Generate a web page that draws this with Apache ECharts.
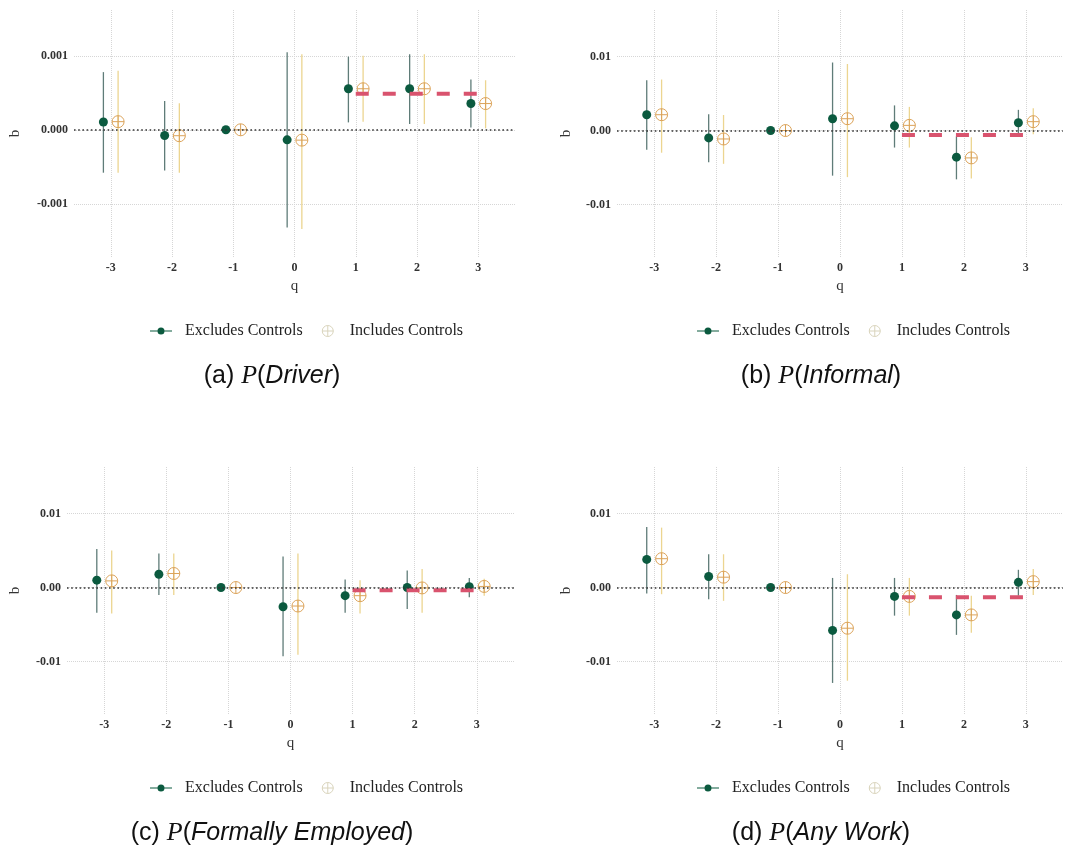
<!DOCTYPE html>
<html>
<head>
<meta charset="utf-8">
<script src="https://cdn.jsdelivr.net/npm/echarts@6/dist/echarts.min.js"></script>
<style>
  body { margin: 0; background: #fff; }
  .panel { position: absolute; }
</style>
</head>
<body>
<div id="chartA" class="panel" style="left:0;top:0;width:539px;height:457px"></div>
<div id="chartB" class="panel" style="left:539px;top:0;width:539px;height:457px"></div>
<div id="chartC" class="panel" style="left:0;top:457px;width:539px;height:400px"></div>
<div id="chartD" class="panel" style="left:539px;top:457px;width:539px;height:400px"></div>
<script>
// event time
var qs = [-3, -2, -1, 0, 1, 2, 3];

// (a) P(Driver)
var drvExcl   = [0.000105, -0.000077, 0, -0.000136, 0.000555, 0.000555, 0.000355];
var drvExclLo = [-0.00058, -0.00055, 0, -0.00132, 0.00010, 0.00008, 0.00003];
var drvExclHi = [0.00078, 0.00039, 0, 0.00105, 0.00099, 0.00102, 0.00068];
var drvIncl   = [0.00011, -0.00008, 0, -0.00014, 0.000555, 0.000555, 0.000355];
var drvInclLo = [-0.00058, -0.00058, 0, -0.00134, 0.00011, 0.00008, 0.00002];
var drvInclHi = [0.00080, 0.00036, 0, 0.00102, 0.00100, 0.00102, 0.00067];

// (b) P(Informal)
var infExcl   = [0.00214, -0.0010, 0, 0.0016, 0.00064, -0.0036, 0.00105];
var infExclLo = [-0.0026, -0.0043, 0, -0.0061, -0.0023, -0.0066, -0.00045];
var infExclHi = [0.0068, 0.0022, 0, 0.0092, 0.0034, -0.0008, 0.0028];
var infIncl   = [0.00214, -0.00114, 0, 0.0016, 0.0007, -0.0037, 0.0012];
var infInclLo = [-0.0030, -0.0045, 0, -0.0063, -0.0023, -0.0065, -0.0005];
var infInclHi = [0.0069, 0.0021, 0, 0.0090, 0.0032, -0.0009, 0.0030];

// (c) P(Formally Employed)
var frmExcl   = [0.0010, 0.0018, 0, -0.0026, -0.0011, 0, 0.0001];
var frmExclLo = [-0.0034, -0.0010, 0, -0.0093, -0.0034, -0.0029, -0.0013];
var frmExclHi = [0.0052, 0.0046, 0, 0.0042, 0.0011, 0.0023, 0.0013];
var frmIncl   = [0.0009, 0.0019, 0, -0.0025, -0.0011, -0.00005, 0.00015];
var frmInclLo = [-0.0035, -0.0010, 0, -0.0091, -0.0035, -0.0034, -0.0011];
var frmInclHi = [0.0050, 0.0046, 0, 0.0046, 0.0010, 0.0025, 0.0012];

// (d) P(Any Work)
var anyExcl   = [0.0038, 0.0015, 0, -0.0058, -0.0012, -0.0037, 0.0007];
var anyExclLo = [-0.0008, -0.0016, 0, -0.0129, -0.0038, -0.0064, -0.0011];
var anyExclHi = [0.0082, 0.0045, 0, 0.0013, 0.0013, -0.0010, 0.0024];
var anyIncl   = [0.0039, 0.0014, 0, -0.0055, -0.0012, -0.0037, 0.0008];
var anyInclLo = [-0.0009, -0.0018, 0, -0.0126, -0.0038, -0.0061, -0.0010];
var anyInclHi = [0.0081, 0.0045, 0, 0.0018, 0.0013, -0.0011, 0.0025];

// pooled post-period estimate (red dashed, q = 1..3)
var pooledQ = [1, 3];
var pooled = [0.000486, -0.0006, -0.00036, -0.0013];

var yTicksSmall = [-0.001, 0, 0.001];
var yTicksBig = [-0.01, 0, 0.01];

var GREEN = '#0b5a3f';
var GREEN_CI = '#5f7c78';
var TAN = '#dba35a';
var TAN_CI = '#ecd590';
var RED = '#d9536e';
var SERIF = 'Liberation Serif';
var SANS = 'Liberation Sans';

var dodge = 0.12;
var plusPath = 'path://M10,0A10,10 0 1,1 10,20A10,10 0 1,1 10,0ZM0,10L20,10M10,0L10,20';
var dotLinePath = 'path://M0,3h22v1h-22zM11,0a3.5,3.5 0 1,1 0,7a3.5,3.5 0 1,1 0,-7z';

function ciSeries(name, lo, hi, off, color) {
	return {
		type: 'custom',
		name: name,
		silent: true,
		data: qs.map(function (q, i) { return [q + off, lo[i], hi[i]]; }),
		encode: { x: 0, y: [1, 2] },
		renderItem: function (params, api) {
			var a = api.coord([api.value(0), api.value(1)]);
			var b = api.coord([api.value(0), api.value(2)]);
			return {
				type: 'line',
				shape: { x1: a[0], y1: a[1], x2: b[0], y2: b[1] },
				style: { stroke: color, lineWidth: 1.3 }
			};
		}
	};
}

function buildOption(p) {
	return {
		animation: false,
		title: {
			text: '{n|(' + p.tag + ') }{m|P}{n|(}{i|' + p.caption + '}{n|)}',
			left: p.capCenter,
			textAlign: 'center',
			top: 358,
			textStyle: {
				rich: {
					n: { fontFamily: SANS, fontSize: 25, fontWeight: 'normal', color: '#111' },
					m: { fontFamily: SERIF, fontStyle: 'italic', fontWeight: 'normal', fontSize: 26, color: '#111' },
					i: { fontFamily: SANS, fontStyle: 'italic', fontWeight: 'normal', fontSize: 25, color: '#111' }
				}
			}
		},
		legend: {
			left: p.legLeft,
			top: 323,
			padding: 0,
			itemWidth: 22,
			itemHeight: 11,
			itemGap: 19,
			selectedMode: false,
			textStyle: { fontFamily: SERIF, fontSize: 16, color: '#222', padding: [0, 0, 0, 8] },
			data: [
				{ name: 'Excludes Controls', icon: dotLinePath, itemStyle: { color: GREEN } },
				{ name: 'Includes Controls', icon: plusPath,
				  itemStyle: { color: 'transparent', borderColor: '#d9d4bc', borderWidth: 1 },
				  textStyle: { padding: [0, 0, 0, 6] } }
			]
		},
		grid: { left: p.left, right: p.right, top: 10, height: 247 },
		xAxis: {
			type: 'value',
			min: -3.6,
			max: 3.6,
			name: 'q',
			nameLocation: 'middle',
			nameGap: 21,
			nameTextStyle: { fontFamily: SERIF, fontSize: 15, color: '#333' },
			axisLine: { show: false },
			axisTick: { show: false, customValues: qs },
			axisLabel: {
				customValues: qs,
				margin: 5,
				fontFamily: SERIF, fontSize: 12, fontWeight: 'bold', color: '#333'
			},
			splitLine: { show: true, lineStyle: { type: 'dotted', color: '#d6d6d6', width: 1 } }
		},
		yAxis: {
			type: 'value',
			min: p.ymin,
			max: p.ymax,
			name: 'b',
			nameLocation: 'middle',
			nameGap: p.nameGap,
			nameTextStyle: { fontFamily: SERIF, fontSize: 15, color: '#333' },
			axisLine: { show: false },
			axisTick: { show: false, customValues: p.ticks },
			axisLabel: {
				customValues: p.ticks,
				margin: 6,
				fontFamily: SERIF, fontSize: 12, fontWeight: 'bold', color: '#333',
				formatter: function (v) { return v.toFixed(p.digits); }
			},
			splitLine: { show: true, lineStyle: { type: 'dotted', color: '#d6d6d6', width: 1 } }
		},
		series: [
			ciSeries('Excludes Controls', p.exLo, p.exHi, -dodge, GREEN_CI),
			ciSeries('Includes Controls', p.inLo, p.inHi, dodge, TAN_CI),
			{
				type: 'scatter',
				name: 'Excludes Controls',
				symbolSize: 9,
				itemStyle: { color: GREEN, opacity: 1 },
				data: qs.map(function (q, i) { return [q - dodge, p.ex[i]]; }),
				markLine: {
					silent: true,
					symbol: 'none',
					label: { show: false },
					lineStyle: { type: [1.6, 2.6], color: '#333', width: 1.6 },
					data: [{ yAxis: 0 }]
				}
			},
			{
				type: 'scatter',
				name: 'Includes Controls',
				symbol: plusPath,
				symbolSize: 12,
				itemStyle: { color: 'transparent', borderColor: TAN, borderWidth: 1, opacity: 1 },
				data: qs.map(function (q, i) { return [q + dodge, p.inc[i]]; })
			},
			{
				type: 'line',
				name: 'pooled',
				symbol: 'none',
				silent: true,
				lineStyle: { color: RED, width: 4, type: [13, 14] },
				data: pooledQ.map(function (q) { return [q, pooled[p.k]]; })
			}
		]
	};
}

var panels = [
	{ id: 'chartA', tag: 'a', caption: 'Driver', k: 0, capCenter: 267, legLeft: 150,
	  left: 73, right: 24, ymin: -0.00172, ymax: 0.00162, ticks: yTicksSmall, digits: 3, nameGap: 51,
	  ex: drvExcl, exLo: drvExclLo, exHi: drvExclHi, inc: drvIncl, inLo: drvInclLo, inHi: drvInclHi },
	{ id: 'chartB', tag: 'b', caption: 'Informal', k: 1, capCenter: 277, legLeft: 158,
	  left: 78, right: 15, ymin: -0.0171, ymax: 0.0163, ticks: yTicksBig, digits: 2, nameGap: 43,
	  ex: infExcl, exLo: infExclLo, exHi: infExclHi, inc: infIncl, inLo: infInclLo, inHi: infInclHi },
	{ id: 'chartC', tag: 'c', caption: 'Formally Employed', k: 2, capCenter: 267, legLeft: 150,
	  left: 66, right: 25, ymin: -0.0171, ymax: 0.0163, ticks: yTicksBig, digits: 2, nameGap: 44,
	  ex: frmExcl, exLo: frmExclLo, exHi: frmExclHi, inc: frmIncl, inLo: frmInclLo, inHi: frmInclHi },
	{ id: 'chartD', tag: 'd', caption: 'Any Work', k: 3, capCenter: 277, legLeft: 158,
	  left: 78, right: 15, ymin: -0.0171, ymax: 0.0163, ticks: yTicksBig, digits: 2, nameGap: 43,
	  ex: anyExcl, exLo: anyExclLo, exHi: anyExclHi, inc: anyIncl, inLo: anyInclLo, inHi: anyInclHi }
];

panels.forEach(function (p) {
	var chart = echarts.init(document.getElementById(p.id));
	chart.setOption(buildOption(p));
});
</script>
</body>
</html>
